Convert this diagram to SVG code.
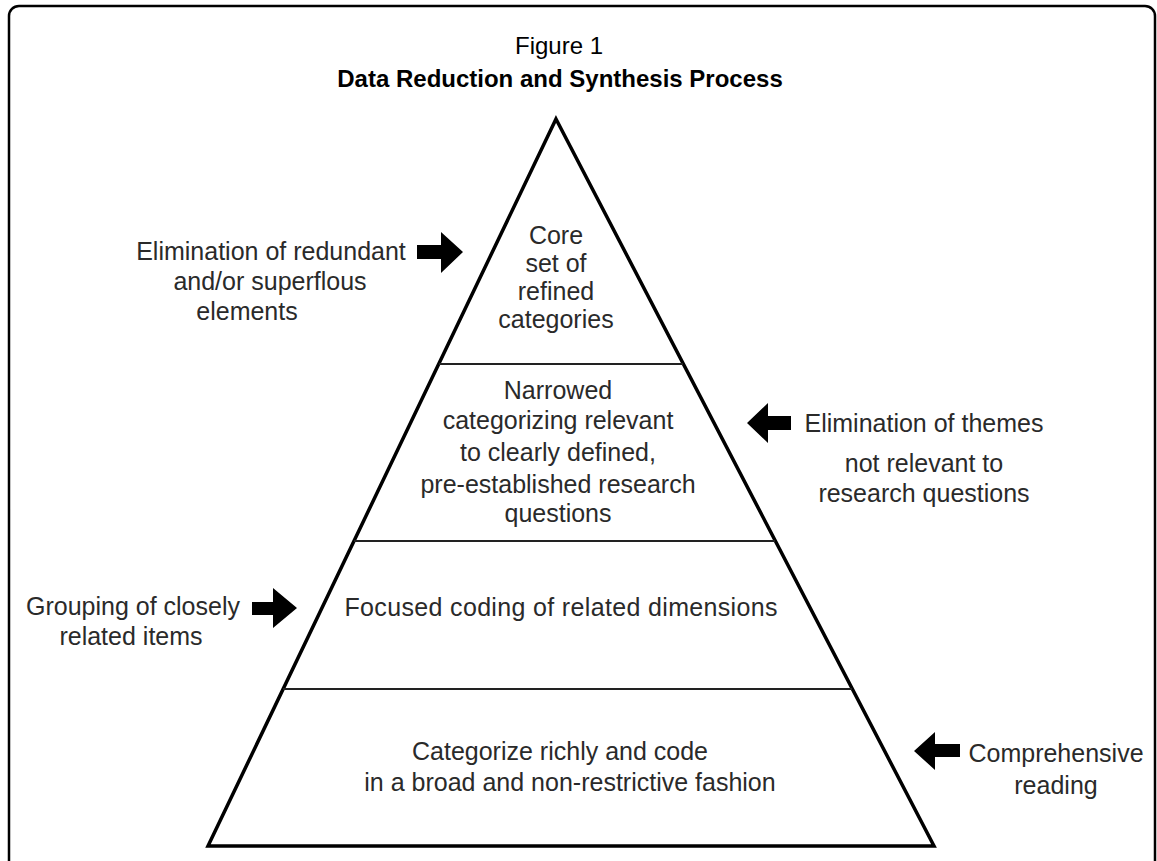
<svg xmlns="http://www.w3.org/2000/svg" width="1157" height="861" viewBox="0 0 1157 861">
<style>
.t{font-family:"Liberation Sans",Arial,sans-serif;font-size:25px;fill:#2a2a2a;text-anchor:middle}
.title{font-family:"Liberation Sans",Arial,sans-serif;font-size:24px;fill:#000;text-anchor:middle}
.edge{fill:none;stroke:#000;stroke-width:3.5;stroke-linejoin:miter}
.div{stroke:#222;stroke-width:2.2}
.arr{fill:#000}
</style>
<rect x="0" y="0" width="1157" height="861" fill="#fff"/>
<rect x="9" y="6" width="1146" height="900" rx="10" ry="10" fill="none" stroke="#000" stroke-width="2.5"/>
<g id="title">
<text class="title" x="559" y="54">Figure 1</text>
<text class="title" x="560" y="87" font-weight="bold">Data Reduction and Synthesis Process</text>
</g>
<g id="pyramid">
<polygon class="edge" points="556,119 934,846 208,846"/>
</g>
<g id="level-core">
<line class="div" x1="439" y1="364" x2="683" y2="364"/>
<text class="t" x="556" y="244">Core</text>
<text class="t" x="556" y="272">set of</text>
<text class="t" x="556" y="300">refined</text>
<text class="t" x="556" y="328">categories</text>
</g>
<g id="level-narrowed">
<line class="div" x1="354" y1="541" x2="775" y2="541"/>
<text class="t" x="558" y="399">Narrowed</text>
<text class="t" x="558" y="429">categorizing relevant</text>
<text class="t" x="558" y="461">to clearly defined,</text>
<text class="t" x="558" y="493">pre-established research</text>
<text class="t" x="558" y="522">questions</text>
</g>
<g id="level-focused">
<line class="div" x1="283" y1="689" x2="852" y2="689"/>
<text class="t" x="561" y="616" textLength="433">Focused coding of related dimensions</text>
</g>
<g id="level-broad">
<text class="t" x="560" y="760">Categorize richly and code</text>
<text class="t" x="570" y="791">in a broad and non-restrictive fashion</text>
</g>
<g id="label-elimination-redundant">
<text class="t" x="271" y="260">Elimination of redundant</text>
<text class="t" x="270" y="290">and/or superflous</text>
<text class="t" x="247" y="320">elements</text>
</g>
<g id="label-elimination-themes">
<text class="t" x="924" y="432">Elimination of themes</text>
<text class="t" x="924" y="472">not relevant to</text>
<text class="t" x="924" y="502">research questions</text>
</g>
<g id="label-grouping">
<text class="t" x="133" y="615">Grouping of closely</text>
<text class="t" x="131" y="645">related items</text>
</g>
<g id="label-comprehensive">
<text class="t" x="1056" y="762">Comprehensive</text>
<text class="t" x="1056" y="794">reading</text>
</g>
<g id="connectors">
<polygon class="arr" points="417,245 441,245 441,232 463,252 441,273 441,259 417,259"/>
<polygon class="arr" points="791,416 768,416 768,403 747,423 768,443 768,430 791,430"/>
<polygon class="arr" points="252,602 273,602 273,588 297,608 273,628 273,615 252,615"/>
<polygon class="arr" points="960,744 935,744 935,732 914,751 935,770 935,757 960,757"/>
</g>
</svg>
